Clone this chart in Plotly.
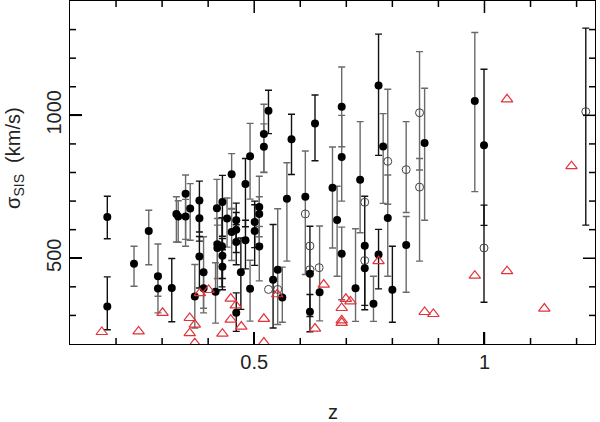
import plotly.graph_objects as go

# filled circles: redshift, sigma_SIS, upper / lower error, bar colour
z_fill = [0.181, 0.181, 0.239, 0.271, 0.291, 0.291, 0.321, 0.331, 0.335, 0.351,
          0.351, 0.361, 0.371, 0.381, 0.381, 0.381, 0.390, 0.390, 0.416, 0.419,
          0.420, 0.420, 0.430, 0.431, 0.431, 0.431, 0.441, 0.451, 0.451, 0.461,
          0.461, 0.461, 0.461, 0.471, 0.481, 0.481, 0.491, 0.491, 0.501, 0.501,
          0.511, 0.511, 0.511, 0.521, 0.521, 0.531, 0.541, 0.551, 0.561, 0.571,
          0.581, 0.611, 0.621, 0.621, 0.632, 0.642,
          0.670, 0.680, 0.690, 0.690, 0.690, 0.720, 0.730, 0.740, 0.740, 0.759,
          0.770, 0.770, 0.780, 0.790, 0.800, 0.830, 0.870, 0.979, 0.999]
s_fill = [644, 331, 481, 595, 437, 394, 396, 655, 646, 726,
          646, 674, 366, 702, 640, 506, 451, 395, 383, 675,
          549, 536, 542, 697, 509, 470, 639, 794, 592, 309,
          633, 600, 557, 451, 760, 563, 857, 393, 595, 627,
          679, 655, 541, 935, 890, 1016, 425, 460, 363, 708,
          916, 715, 446, 313, 971, 381,
          747, 634, 1030, 854, 516, 395, 775, 544, 465, 341,
          1104, 513, 891, 641, 390, 546, 903, 1050, 895]
ep_fill = [73, 104, 61, 73, 113, 50, 103, 60, 55, 65,
           60, 87, 112, 68, 60, 70, 124, 60, 101, 101,
           90, 80, 100, 93, 60, 60, 72, 72, 80, 70,
           60, 60, 60, 120, 89, 70, 115, 100, 105, 60,
           108, 60, 70, 104, 80, 72, 193, 213, 106, 126,
           88, 160, 166, 60, 100, 232,
           142, 118, 139, 146, 93, 208, 203, 173, 80, 96,
           180, 88, 115, 150, 152, 100, 192, 240, 266]
em_fill = [76, 81, 79, 118, 70, 85, 118, 98, 90, 184,
           80, 111, 110, 110, 80, 110, 142, 70, 110, 120,
           120, 150, 142, 120, 80, 80, 100, 120, 100, 65,
           80, 80, 80, 130, 150, 100, 150, 113, 120, 90,
           130, 80, 120, 134, 90, 80, 169, 192, 87, 218,
           123, 272, 150, 70, 130, 100,
           211, 197, 140, 154, 161, 116, 186, 224, 130, 62,
           244, 120, 199, 204, 114, 165, 270, 317, 280]
bar_fill = ["k", "k", "g", "g", "g", "g", "k", "g", "g", "g",
            "g", "g", "g", "k", "k", "k", "g", "g", "g", "g",
            "g", "g", "k", "k", "k", "k", "g", "g", "g", "k",
            "k", "k", "k", "k", "k", "k", "g", "g", "k", "k",
            "g", "g", "g", "g", "g", "k", "k", "g", "g", "g",
            "k", "g", "k", "k", "k", "g",
            "g", "g", "g", "g", "g", "g", "g", "k", "k", "g",
            "k", "k", "g", "g", "k", "g", "g", "g", "k"]

# open circles
z_open = [0.611, 0.621, 0.621, 0.641, 0.531, 0.551, 0.740, 0.740, 0.790, 0.830,
          0.859, 0.859, 0.999, 1.220]
s_open = [655, 543, 460, 467, 391, 391, 696, 492, 839, 810,
          1009, 749, 536, 1013]
ep_open = [0, 0, 0, 0, 0, 0, 0, 0, 252, 168,
           214, 100, 150, 292]
em_open = [0, 0, 0, 0, 0, 0, 0, 0, 150, 150,
           200, 259, 190, 397]
bar_open = ["g", "g", "g", "g", "g", "g", "g", "g", "g", "g",
            "g", "g", "k", "k"]

# red triangles
z_tri = [0.169, 0.249, 0.301, 0.360, 0.360, 0.371, 0.371, 0.382, 0.401, 0.431,
         0.449, 0.460, 0.449, 0.472, 0.521, 0.521, 0.550, 0.632, 0.651,
         0.690, 0.699, 0.709, 0.690, 0.690, 0.770, 0.870, 0.889, 0.979,
         1.049, 1.049, 1.130, 1.189]
s_tri = [242, 244, 309, 291, 238, 268, 203, 378, 389, 236,
         359, 335, 285, 261, 288, 205, 374, 254, 408,
         326, 358, 349, 283, 274, 490, 312, 305, 439,
         1056, 455, 324, 822]

# axes
X_RANGE = [0.1, 1.24]
Y_RANGE = [200, 1400]
X_MAJOR = [0.5, 1.0]
X_LABELS = ["0.5", "1"]
X_MINOR = [0.2, 0.3, 0.4, 0.6, 0.7, 0.8, 0.9, 1.1, 1.2]
Y_MAJOR = [500, 1000]
Y_LABELS = ["500", "1000"]
Y_MINOR = [300, 400, 600, 700, 800, 900, 1100, 1200, 1300]

BAR_COLORS = {"k": "#111111", "g": "#6a6a6a"}
FONT = "Liberation Sans"
W, H = 600, 422
MARGIN = dict(l=70, r=5, t=1, b=78)
PLOT_W = W - MARGIN["l"] - MARGIN["r"]
PLOT_H = H - MARGIN["t"] - MARGIN["b"]

fig = go.Figure()

def add_bars(zs, ss, eps, ems, cls, key):
    idx = [i for i, c in enumerate(cls) if c == key and (eps[i] > 0 or ems[i] > 0)]
    if not idx:
        return
    fig.add_trace(go.Scatter(
        x=[zs[i] for i in idx], y=[ss[i] for i in idx], mode="markers",
        marker=dict(size=1, color="rgba(0,0,0,0)"),
        error_y=dict(type="data", symmetric=False,
                     array=[eps[i] for i in idx], arrayminus=[ems[i] for i in idx],
                     color=BAR_COLORS[key], thickness=1.4, width=3.5),
        hoverinfo="skip"))

for key in ["g", "k"]:
    add_bars(z_fill, s_fill, ep_fill, em_fill, bar_fill, key)
    add_bars(z_open, s_open, ep_open, em_open, bar_open, key)

fig.add_trace(go.Scatter(x=z_open, y=s_open, mode="markers",
                         marker=dict(symbol="circle-open", size=8, color="#444444",
                                     line=dict(width=1))))
fig.add_trace(go.Scatter(x=z_fill, y=s_fill, mode="markers",
                         marker=dict(symbol="circle", size=8, color="black")))
fig.add_trace(go.Scatter(x=z_tri, y=s_tri, mode="markers",
                         marker=dict(symbol="triangle-up-open", size=10, color="#e0333a",
                                     line=dict(width=1.2))))

# inward tick marks on all four sides, drawn as cap-less error bars from the frame
y_per_px = (Y_RANGE[1] - Y_RANGE[0]) / PLOT_H
x_per_px = (X_RANGE[1] - X_RANGE[0]) / PLOT_W
tick_bar = dict(type="data", symmetric=False, color="black", thickness=1.5, width=0)
for vals, px in [(X_MAJOR, 12), (X_MINOR, 6)]:
    n = len(vals)
    fig.add_trace(go.Scatter(
        x=vals * 2, y=[Y_RANGE[0]] * n + [Y_RANGE[1]] * n, mode="markers",
        marker=dict(size=1, color="rgba(0,0,0,0)"), hoverinfo="skip",
        cliponaxis=False,
        error_y=dict(array=[px * y_per_px] * n + [0] * n,
                     arrayminus=[0] * n + [px * y_per_px] * n, **tick_bar)))
for vals, px in [(Y_MAJOR, 12), (Y_MINOR, 6)]:
    n = len(vals)
    fig.add_trace(go.Scatter(
        x=[X_RANGE[0]] * n + [X_RANGE[1]] * n, y=vals * 2, mode="markers",
        marker=dict(size=1, color="rgba(0,0,0,0)"), hoverinfo="skip",
        cliponaxis=False,
        error_x=dict(array=[px * x_per_px] * n + [0] * n,
                     arrayminus=[0] * n + [px * x_per_px] * n, **tick_bar)))

tickfont = dict(family=FONT, size=20, color="#222222")
axis_style = dict(showgrid=False, zeroline=False, showline=True, linecolor="black",
                  linewidth=1, mirror=True, ticks="inside", ticklen=12, tickwidth=1.5,
                  tickcolor="black", tickfont=tickfont, automargin=False)

fig.update_layout(
    width=W, height=H, showlegend=False,
    plot_bgcolor="white", paper_bgcolor="white",
    margin=MARGIN,
    xaxis=dict(range=X_RANGE, tickmode="array", tickvals=X_MAJOR, ticktext=X_LABELS,
               **axis_style),
    yaxis=dict(range=Y_RANGE, tickmode="array", tickvals=Y_MAJOR, ticktext=Y_LABELS,
               tickangle=-90, **axis_style),
)

fig.add_annotation(text="z", xref="paper", yref="paper", x=0.5, y=-0.198,
                   xanchor="center", yanchor="middle", showarrow=False,
                   font=dict(family=FONT, size=20, color="#222222"))
fig.add_annotation(text="σ<sub>SIS</sub>  (km/s)", xref="paper", yref="paper",
                   x=-0.107, y=0.542, textangle=-90, xanchor="center", yanchor="middle",
                   showarrow=False, font=dict(family=FONT, size=20, color="#222222"))

fig.write_html("out.html", config={"displayModeBar": False},
               post_script="document.body.style.margin='0';")
